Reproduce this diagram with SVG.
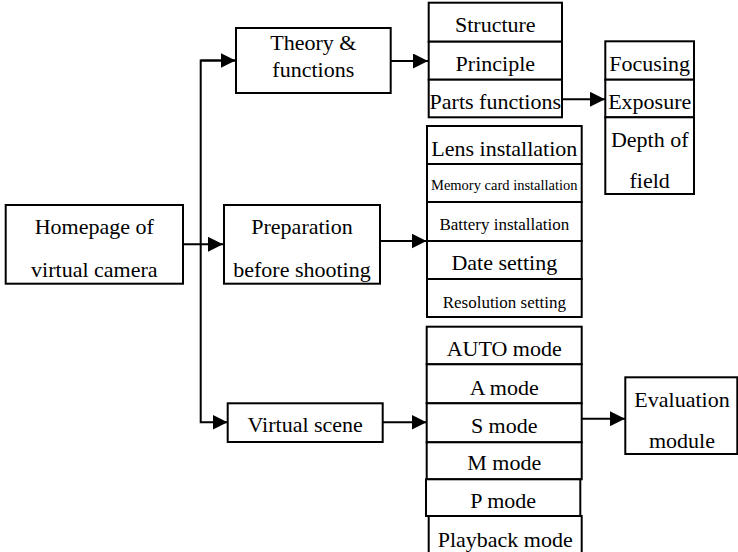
<svg xmlns="http://www.w3.org/2000/svg" width="738" height="552" viewBox="0 0 738 552">
<defs>
<marker id="arr" markerUnits="userSpaceOnUse" markerWidth="15" markerHeight="15" refX="15" refY="7.5" orient="auto">
<path d="M0,0 L15,7.5 L0,15 z" fill="#000"/>
</marker>
<style>
rect{fill:#fff;stroke:#000;stroke-width:2}
text{font-family:'Liberation Serif','Times New Roman',Times,Tinos,'Noto Serif','DejaVu Serif',FreeSerif,serif;font-size:22px;fill:#000;text-anchor:middle}
.s17{font-size:17px}
.s14{font-size:14.5px}
.c{fill:none;stroke:#000;stroke-width:2}
</style>
</defs>
<rect x="0" y="0" width="738" height="552" style="stroke:none;fill:#fff"/>
<g id="connectors">
<path class="c" d="M183,244.3 L223,244.3" marker-end="url(#arr)"/>
<path class="c" d="M236,60.5 L200.7,60.5 L200.7,422.3 L227.5,422.3" marker-end="url(#arr)"/>
<path class="c" d="M200.7,60.5 L235.5,60.5" marker-end="url(#arr)"/>
<path class="c" d="M390.7,61 L428,61" marker-end="url(#arr)"/>
<path class="c" d="M562,99.3 L605,99.3" marker-end="url(#arr)"/>
<path class="c" d="M380,241 L426.5,241" marker-end="url(#arr)"/>
<path class="c" d="M382.7,422.3 L426.5,422.3" marker-end="url(#arr)"/>
<path class="c" d="M581.7,418.7 L625,418.7" marker-end="url(#arr)"/>
</g>
<g id="homepage"><rect x="5.7" y="205" width="177.3" height="78.7"/><text x="94.3" y="234.3">Homepage of</text><text x="94.3" y="276.7">virtual camera</text></g>
<g id="theory"><rect x="236" y="28" width="154.7" height="65"/><text x="313.3" y="50">Theory &amp;</text><text x="313.3" y="77">functions</text></g>
<g id="preparation"><rect x="224" y="205" width="156" height="78.7"/><text x="302" y="234.3">Preparation</text><text x="302" y="276.7">before shooting</text></g>
<g id="virtual-scene"><rect x="227.7" y="403.3" width="155" height="38.7"/><text x="305.2" y="432.3">Virtual scene</text></g>
<g id="structure"><rect x="428.7" y="2.7" width="133.3" height="39"/><text x="495.3" y="32.3">Structure</text></g>
<g id="principle"><rect x="428.7" y="41.7" width="133.3" height="38"/><text x="495.3" y="71">Principle</text></g>
<g id="parts-functions"><rect x="428.7" y="79.7" width="133.3" height="37.6"/><text x="495.3" y="109">Parts functions</text></g>
<g id="focusing"><rect x="605.3" y="41.3" width="88.7" height="38.4"/><text x="649.7" y="70.7">Focusing</text></g>
<g id="exposure"><rect x="605.3" y="79.7" width="88.7" height="37.6"/><text x="649.7" y="109.3">Exposure</text></g>
<g id="depth-of-field"><rect x="605.3" y="117.3" width="88.7" height="76.7"/><text x="649.7" y="146.7">Depth of</text><text x="649.7" y="188.3">field</text></g>
<g id="lens"><rect x="427" y="126" width="154.7" height="38"/><text x="504.3" y="156">Lens installation</text></g>
<g id="memory"><rect x="427" y="164" width="154.7" height="38"/><text class="s14" x="504.3" y="190">Memory card installation</text></g>
<g id="battery"><rect x="427" y="202" width="154.7" height="39"/><text class="s17" x="504.3" y="230">Battery installation</text></g>
<g id="date"><rect x="427" y="241" width="154.7" height="38"/><text x="504.3" y="270">Date setting</text></g>
<g id="resolution"><rect x="427" y="279" width="154.7" height="38"/><text class="s17" x="504.3" y="307.7">Resolution setting</text></g>
<g id="auto"><rect x="426.7" y="326.7" width="155" height="37.6"/><text x="504.2" y="356">AUTO mode</text></g>
<g id="a-mode"><rect x="426.7" y="364.3" width="155" height="39"/><text x="504.2" y="395">A mode</text></g>
<g id="s-mode"><rect x="426.7" y="403.3" width="155" height="39"/><text x="504.2" y="432.7">S mode</text></g>
<g id="m-mode"><rect x="426.7" y="442.3" width="155" height="37"/><text x="504.2" y="470">M mode</text></g>
<g id="p-mode"><rect x="426" y="479.3" width="154.3" height="36.7"/><text x="503.2" y="507.7">P mode</text></g>
<g id="playback"><rect x="428.7" y="516" width="153" height="38"/><text x="505.2" y="546.7">Playback mode</text></g>
<g id="evaluation"><rect x="625.3" y="377.3" width="112" height="76.7"/><text x="682" y="407.3">Evaluation</text><text x="682" y="448.3">module</text></g>
</svg>
